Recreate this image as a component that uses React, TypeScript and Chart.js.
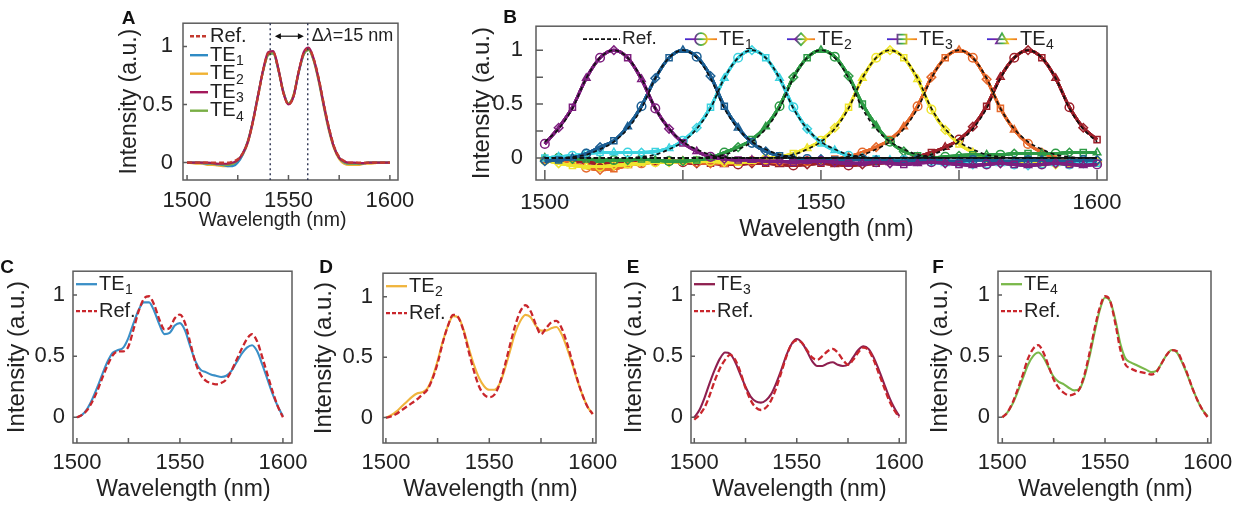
import React, { useEffect, useRef } from 'react';
import { Chart, registerables } from 'chart.js';

Chart.register(...registerables);

const FONT = '"Liberation Sans", Arial, Helvetica, sans-serif';
const TEXT = '#222222';
const AXIS = '#5c5c5c';

// ---------- shared axes ----------
const WAVELENGTH = [1500, 1502.5, 1505, 1507.5, 1510, 1512.5, 1515, 1517.5, 1520, 1522.5, 1525, 1527.5, 1530, 1532.5, 1535, 1537.5, 1540, 1542.5, 1545, 1547.5, 1550, 1552.5, 1555, 1557.5, 1560, 1562.5, 1565, 1567.5, 1570, 1572.5, 1575, 1577.5, 1580, 1582.5, 1585, 1587.5, 1590, 1592.5, 1595, 1597.5, 1600];
const X_TICKS = [1500, 1525, 1550, 1575, 1600];
const X_TICK_LABELS = [1500, 1550, 1600];
const Y_TICK_LABELS = [0, 0.5, 1];
const Y_TICKS_B = [0, 0.25, 0.5, 0.75, 1];
const X_TITLE = 'Wavelength (nm)';
const Y_TITLE = 'Intensity (a.u.)';

// ---------- panel A ----------
const A_REF = [0, 0, 0, 0, 0, 0, 0, 0, 0, 0.01, 0.03, 0.08, 0.18, 0.35, 0.57, 0.79, 0.94, 0.95, 0.80, 0.60, 0.50, 0.57, 0.78, 0.94, 0.98, 0.89, 0.72, 0.50, 0.30, 0.14, 0.05, 0.015, 0, 0, 0, 0, 0, 0, 0, 0, 0];
const A_TE1 = [0, 0, 0, -0.005, -0.01, -0.01, -0.015, -0.02, -0.03, -0.03, 0.0, 0.07, 0.18, 0.36, 0.58, 0.79, 0.93, 0.94, 0.80, 0.61, 0.51, 0.57, 0.77, 0.93, 0.97, 0.88, 0.70, 0.48, 0.28, 0.13, 0.04, 0.0, -0.01, -0.01, -0.01, -0.005, 0, 0, 0, 0, 0];
const A_TE2 = [0, -0.005, -0.01, -0.01, -0.02, -0.02, -0.025, -0.03, -0.03, -0.02, 0.01, 0.07, 0.17, 0.35, 0.57, 0.79, 0.93, 0.95, 0.81, 0.61, 0.51, 0.58, 0.78, 0.94, 0.97, 0.87, 0.69, 0.47, 0.27, 0.12, 0.03, -0.01, -0.02, -0.02, -0.02, -0.01, -0.01, -0.005, 0, 0, 0];
const A_TE3 = [0, 0, 0, 0, 0, -0.005, -0.01, -0.01, -0.01, 0.0, 0.02, 0.08, 0.18, 0.36, 0.58, 0.80, 0.95, 0.96, 0.81, 0.60, 0.50, 0.57, 0.78, 0.95, 0.99, 0.89, 0.71, 0.49, 0.29, 0.13, 0.04, 0.01, 0, 0, -0.005, -0.005, 0, 0, 0, 0, 0];
const A_TE4 = [0, 0, 0, 0, -0.005, -0.01, -0.01, -0.015, -0.02, -0.01, 0.02, 0.08, 0.19, 0.36, 0.58, 0.79, 0.93, 0.94, 0.80, 0.60, 0.51, 0.58, 0.78, 0.93, 0.97, 0.88, 0.71, 0.49, 0.29, 0.13, 0.04, 0.005, -0.01, -0.01, -0.01, -0.005, 0, 0, 0, 0, 0];
const A_PEAK_LINES = [1541, 1559.5];
const A_ARROW = [1543.3, 1557.6];
const A_ARROW_TEXT_AT = 1561.5;
const A_COLORS = { ref: '#c43a2f', te1: '#2f8bc4', te2: '#f0b232', te3: '#a3195b', te4: '#79ae45' };

// ---------- panel B ----------
const B_COLORS = ['#7d1e7e', '#1c5f94', '#3dd3e0', '#2d9b45', '#efe52e', '#e6692b', '#9e1f29'];
const B_REF_1 = [0.15, 0.27, 0.46, 0.74, 0.93, 1.0, 0.93, 0.74, 0.46, 0.27, 0.15, 0.08, 0.03, 0.01, 0, 0, 0, 0, 0, 0, 0, 0, 0, 0, 0, 0, 0, 0, 0, 0, 0, 0, 0, 0, 0, 0, 0, 0, 0, 0, 0];
const B_REF_2 = [0, 0, 0.01, 0.03, 0.08, 0.15, 0.27, 0.46, 0.74, 0.93, 1.0, 0.93, 0.74, 0.46, 0.27, 0.15, 0.08, 0.03, 0.01, 0, 0, 0, 0, 0, 0, 0, 0, 0, 0, 0, 0, 0, 0, 0, 0, 0, 0, 0, 0, 0, 0];
const B_REF_3 = [0, 0, 0, 0, 0, 0, 0, 0.01, 0.03, 0.08, 0.15, 0.27, 0.46, 0.74, 0.93, 1.0, 0.93, 0.74, 0.46, 0.27, 0.15, 0.08, 0.03, 0.01, 0, 0, 0, 0, 0, 0, 0, 0, 0, 0, 0, 0, 0, 0, 0, 0, 0];
const B_REF_4 = [0, 0, 0, 0, 0, 0, 0, 0, 0, 0, 0, 0, 0.01, 0.03, 0.08, 0.15, 0.27, 0.46, 0.74, 0.93, 1.0, 0.93, 0.74, 0.46, 0.27, 0.15, 0.08, 0.03, 0.01, 0, 0, 0, 0, 0, 0, 0, 0, 0, 0, 0, 0];
const B_REF_5 = [0, 0, 0, 0, 0, 0, 0, 0, 0, 0, 0, 0, 0, 0, 0, 0, 0, 0.01, 0.03, 0.08, 0.15, 0.27, 0.46, 0.74, 0.93, 1.0, 0.93, 0.74, 0.46, 0.27, 0.15, 0.08, 0.03, 0.01, 0, 0, 0, 0, 0, 0, 0];
const B_REF_6 = [0, 0, 0, 0, 0, 0, 0, 0, 0, 0, 0, 0, 0, 0, 0, 0, 0, 0, 0, 0, 0, 0, 0.01, 0.03, 0.08, 0.15, 0.27, 0.46, 0.74, 0.93, 1.0, 0.93, 0.74, 0.46, 0.27, 0.15, 0.08, 0.03, 0.01, 0, 0];
const B_REF_7 = [0, 0, 0, 0, 0, 0, 0, 0, 0, 0, 0, 0, 0, 0, 0, 0, 0, 0, 0, 0, 0, 0, 0, 0, 0, 0, 0, 0.01, 0.03, 0.08, 0.15, 0.27, 0.46, 0.74, 0.93, 1.0, 0.93, 0.74, 0.46, 0.27, 0.15];
const B_TE_1 = [0.13, 0.28, 0.47, 0.74, 0.93, 1.0, 0.93, 0.73, 0.46, 0.27, 0.14, 0.06, 0.01, -0.01, -0.02, -0.02, -0.03, -0.03, -0.04, -0.03, -0.03, -0.04, -0.05, -0.05, -0.04, -0.05, -0.06, -0.05, -0.04, -0.05, -0.06, -0.07, -0.06, -0.05, -0.06, -0.07, -0.06, -0.05, -0.06, -0.07, -0.06];
const B_TE_2 = [-0.03, -0.02, 0.0, 0.04, 0.10, 0.16, 0.29, 0.48, 0.74, 0.93, 1.0, 0.94, 0.76, 0.48, 0.28, 0.14, 0.06, 0.02, 0.0, -0.01, -0.01, -0.02, -0.02, -0.01, -0.02, -0.03, -0.03, -0.02, -0.02, -0.03, -0.03, -0.02, -0.02, -0.03, -0.03, -0.02, -0.02, -0.03, -0.03, -0.02, -0.02];
const B_TE_3 = [0.0, 0.01, 0.02, 0.04, 0.05, 0.05, 0.05, 0.05, 0.06, 0.09, 0.16, 0.28, 0.47, 0.74, 0.93, 1.0, 0.93, 0.74, 0.47, 0.27, 0.14, 0.07, 0.02, 0.0, -0.01, -0.02, -0.02, -0.03, -0.04, -0.05, -0.05, -0.06, -0.06, -0.05, -0.06, -0.07, -0.06, -0.05, -0.06, -0.05, -0.05];
const B_TE_4 = [0.0, 0.0, -0.01, -0.01, -0.02, -0.02, -0.02, -0.01, -0.02, -0.03, -0.03, -0.02, 0.0, 0.05, 0.10, 0.17, 0.29, 0.48, 0.75, 0.93, 1.0, 0.94, 0.76, 0.50, 0.30, 0.15, 0.06, 0.02, 0.0, 0.01, 0.02, 0.03, 0.03, 0.03, 0.04, 0.04, 0.04, 0.04, 0.05, 0.05, 0.05];
const B_TE_5 = [-0.02, -0.05, -0.07, -0.08, -0.08, -0.07, -0.06, -0.05, -0.04, -0.04, -0.03, -0.03, -0.03, -0.04, -0.04, -0.03, -0.01, 0.01, 0.04, 0.09, 0.16, 0.28, 0.47, 0.74, 0.93, 1.0, 0.93, 0.73, 0.45, 0.26, 0.13, 0.05, 0.0, -0.03, -0.04, -0.05, -0.05, -0.06, -0.05, -0.05, -0.04];
const B_TE_6 = [-0.01, -0.02, -0.05, -0.09, -0.11, -0.10, -0.07, -0.05, -0.04, -0.03, -0.03, -0.04, -0.05, -0.05, -0.04, -0.03, -0.03, -0.04, -0.04, -0.03, -0.02, -0.01, 0.01, 0.05, 0.10, 0.17, 0.29, 0.48, 0.75, 0.93, 1.0, 0.93, 0.73, 0.46, 0.26, 0.13, 0.05, 0.0, -0.03, -0.04, -0.03];
const B_TE_7 = [-0.02, -0.03, -0.03, -0.04, -0.05, -0.05, -0.05, -0.04, -0.03, -0.03, -0.04, -0.05, -0.05, -0.06, -0.06, -0.05, -0.05, -0.06, -0.07, -0.06, -0.05, -0.06, -0.07, -0.06, -0.05, -0.04, -0.02, 0.01, 0.05, 0.10, 0.17, 0.29, 0.48, 0.75, 0.93, 1.0, 0.93, 0.74, 0.47, 0.28, 0.17];
const B_REFS = [B_REF_1, B_REF_2, B_REF_3, B_REF_4, B_REF_5, B_REF_6, B_REF_7];
const B_TES = [B_TE_1, B_TE_2, B_TE_3, B_TE_4, B_TE_5, B_TE_6, B_TE_7];
const B_MARKERS = ['circle', 'rectRot', 'rect', 'triangle'];

// ---------- panels C-F ----------
const C_TE1 = [0.00, 0.02, 0.07, 0.15, 0.25, 0.36, 0.46, 0.53, 0.55, 0.57, 0.65, 0.77, 0.88, 0.94, 0.94, 0.87, 0.76, 0.68, 0.69, 0.75, 0.77, 0.71, 0.58, 0.46, 0.39, 0.37, 0.35, 0.34, 0.33, 0.34, 0.38, 0.45, 0.52, 0.57, 0.59, 0.54, 0.43, 0.31, 0.19, 0.09, 0.01];
const C_REF = [0.00, 0.02, 0.06, 0.13, 0.22, 0.33, 0.43, 0.51, 0.54, 0.54, 0.58, 0.72, 0.87, 0.97, 0.99, 0.92, 0.80, 0.72, 0.73, 0.81, 0.84, 0.77, 0.61, 0.45, 0.35, 0.30, 0.28, 0.27, 0.28, 0.31, 0.38, 0.47, 0.56, 0.64, 0.68, 0.62, 0.49, 0.35, 0.21, 0.09, 0.00];
const D_TE2 = [0.00, 0.02, 0.05, 0.09, 0.13, 0.17, 0.20, 0.21, 0.24, 0.33, 0.47, 0.63, 0.76, 0.84, 0.83, 0.73, 0.58, 0.44, 0.33, 0.26, 0.23, 0.23, 0.28, 0.40, 0.55, 0.70, 0.80, 0.85, 0.83, 0.76, 0.72, 0.72, 0.74, 0.75, 0.69, 0.58, 0.45, 0.31, 0.19, 0.09, 0.03];
const D_REF = [0.00, 0.01, 0.03, 0.06, 0.09, 0.12, 0.15, 0.19, 0.23, 0.32, 0.45, 0.62, 0.76, 0.85, 0.83, 0.72, 0.55, 0.39, 0.26, 0.19, 0.17, 0.19, 0.28, 0.43, 0.60, 0.76, 0.88, 0.93, 0.88, 0.77, 0.69, 0.74, 0.79, 0.80, 0.74, 0.62, 0.47, 0.32, 0.19, 0.09, 0.03];
const E_TE3 = [0.00, 0.06, 0.16, 0.28, 0.39, 0.48, 0.53, 0.52, 0.45, 0.35, 0.25, 0.17, 0.13, 0.12, 0.14, 0.19, 0.28, 0.39, 0.51, 0.60, 0.64, 0.61, 0.54, 0.46, 0.42, 0.42, 0.44, 0.45, 0.43, 0.42, 0.43, 0.49, 0.55, 0.58, 0.56, 0.49, 0.39, 0.28, 0.17, 0.08, 0.01];
const E_REF = [-0.02, 0.02, 0.08, 0.18, 0.30, 0.40, 0.47, 0.51, 0.47, 0.37, 0.24, 0.14, 0.08, 0.06, 0.08, 0.14, 0.24, 0.37, 0.50, 0.60, 0.63, 0.61, 0.55, 0.49, 0.47, 0.50, 0.54, 0.56, 0.53, 0.47, 0.43, 0.47, 0.53, 0.57, 0.55, 0.47, 0.36, 0.25, 0.14, 0.06, 0.00];
const F_TE4 = [0.00, 0.04, 0.11, 0.21, 0.32, 0.43, 0.50, 0.53, 0.49, 0.41, 0.33, 0.29, 0.27, 0.24, 0.22, 0.23, 0.33, 0.50, 0.70, 0.88, 0.98, 0.95, 0.80, 0.60, 0.48, 0.45, 0.43, 0.41, 0.39, 0.37, 0.38, 0.44, 0.51, 0.55, 0.53, 0.45, 0.35, 0.24, 0.14, 0.06, 0.01];
const F_REF = [0.00, 0.04, 0.12, 0.23, 0.35, 0.48, 0.56, 0.59, 0.53, 0.42, 0.31, 0.24, 0.20, 0.18, 0.19, 0.23, 0.35, 0.53, 0.73, 0.90, 0.99, 0.95, 0.77, 0.55, 0.43, 0.40, 0.38, 0.37, 0.36, 0.35, 0.37, 0.44, 0.51, 0.55, 0.54, 0.46, 0.36, 0.24, 0.14, 0.06, 0.00];
const REF_RED = '#c9262c';

// ---------- layout specs ----------
interface Spec {
  canvas: { l: number; t: number; w: number; h: number };
  plot: { l: number; t: number; r: number; b: number };
  xRange: [number, number];
  yRange: [number, number];
  yTickPad: number; yTitlePad: number;
  xLabelDy: number; xTitleDx: number; xTitleDy: number;
  tickSize: number; xTitleSize: number; yTitleSize: number;
  xTickLen: number; yTickLen: number; yTickMarks: number[];
  letter: string; letterPos: [number, number];
}

const SPEC_A: Spec = {
  canvas: { l: 110, t: 0, w: 320, h: 250 }, plot: { l: 183, t: 20, r: 398, b: 180 },
  xRange: [1498, 1604], yRange: [-0.15, 1.2],
  yTickPad: 10, yTitlePad: 6,
  xLabelDy: 20.5, xTitleDx: -18, xTitleDy: 41,
  tickSize: 22, xTitleSize: 19.5, yTitleSize: 23, xTickLen: 5, yTickLen: 4, yTickMarks: Y_TICK_LABELS,
  letter: 'A', letterPos: [128.5, 18.5],
};
const SPEC_B: Spec = {
  canvas: { l: 455, t: 0, w: 685, h: 250 }, plot: { l: 536, t: 20, r: 1107, b: 180 },
  xRange: [1498.4, 1601.8], yRange: [-0.205, 1.223],
  yTickPad: 13, yTitlePad: 12.5,
  xLabelDy: 22.5, xTitleDx: 5, xTitleDy: 49.5,
  tickSize: 22, xTitleSize: 23, yTitleSize: 24, xTickLen: 10, yTickLen: 7, yTickMarks: Y_TICKS_B,
  letter: 'B', letterPos: [510, 17.5],
};
const bottomSpec = (cl: number, cw: number, pl: number, pr: number, xr: [number, number], ytp: number, ytitle: number, letter: string, lp: [number, number]): Spec => ({
  canvas: { l: cl, t: 250, w: cw, h: 255 }, plot: { l: pl, t: 270, r: pr, b: 443 },
  xRange: xr, yRange: [-0.21, 1.195],
  yTickPad: ytp, yTitlePad: ytitle,
  xLabelDy: 19.5, xTitleDx: 1, xTitleDy: 46.5,
  tickSize: 22, xTitleSize: 23, yTitleSize: 24, xTickLen: 5, yTickLen: 4, yTickMarks: Y_TICK_LABELS,
  letter, letterPos: lp,
});
const SPEC_C = bottomSpec(0, 325, 73, 292, [1498.1, 1604.4], 8, 2.5, 'C', [7, 267.5]);
const SPEC_D = bottomSpec(305, 320, 383, 596, [1498.6, 1601.6], 10, 4.5, 'D', [326, 267.5]);
const SPEC_E = bottomSpec(615, 320, 691, 906, [1498.4, 1603.3], 8, 4.5, 'E', [633, 267.5]);
const SPEC_F = bottomSpec(920, 322, 998, 1211, [1497.9, 1601.6], 8, 5.5, 'F', [938, 267.5]);

// ---------- helpers ----------
const pts = (vals: number[]) => WAVELENGTH.map((x, i) => ({ x, y: vals[i] }));

function seg(ctx: CanvasRenderingContext2D, x1: number, y1: number, x2: number, y2: number) {
  ctx.beginPath(); ctx.moveTo(x1, y1); ctx.lineTo(x2, y2); ctx.stroke();
}

function subText(ctx: CanvasRenderingContext2D, main: string, sub: string, x: number, y: number, size: number) {
  ctx.fillStyle = TEXT; ctx.textBaseline = 'middle'; ctx.textAlign = 'left';
  ctx.font = `${size}px ${FONT}`;
  ctx.fillText(main, x, y);
  if (sub) {
    const w = ctx.measureText(main).width;
    ctx.font = `${Math.round(size * 0.72)}px ${FONT}`;
    ctx.fillText(sub, x + w + 0.5, y + size * 0.32);
  }
}

function marker(ctx: CanvasRenderingContext2D, shape: string, x: number, y: number, r: number) {
  ctx.beginPath();
  if (shape === 'circle') ctx.arc(x, y, r, 0, Math.PI * 2);
  else if (shape === 'rectRot') { ctx.moveTo(x, y - r); ctx.lineTo(x + r, y); ctx.lineTo(x, y + r); ctx.lineTo(x - r, y); ctx.closePath(); }
  else if (shape === 'rect') { ctx.rect(x - r * 0.75, y - r * 0.75, r * 1.5, r * 1.5); }
  else { ctx.moveTo(x, y - r); ctx.lineTo(x + r, y + r * 0.7); ctx.lineTo(x - r, y + r * 0.7); ctx.closePath(); }
  ctx.stroke();
}

function drawFrame(chart: any, s: Spec) {
  const { ctx, chartArea: a, scales } = chart;
  ctx.save();
  ctx.strokeStyle = AXIS; ctx.lineWidth = 1.5; ctx.setLineDash([]);
  ctx.beginPath();
  for (const v of X_TICKS) {
    const p = scales.x.getPixelForValue(v);
    ctx.moveTo(p, a.bottom); ctx.lineTo(p, a.bottom - s.xTickLen);
  }
  for (const v of s.yTickMarks) {
    const p = scales.y.getPixelForValue(v);
    ctx.moveTo(a.left, p); ctx.lineTo(a.left + s.yTickLen, p);
  }
  ctx.stroke();
  ctx.strokeRect(a.left, a.top, a.right - a.left, a.bottom - a.top);
  // x tick labels and title
  ctx.fillStyle = TEXT; ctx.textAlign = 'center'; ctx.textBaseline = 'middle';
  ctx.font = `${s.tickSize}px ${FONT}`;
  for (const v of X_TICK_LABELS) ctx.fillText(String(v), scales.x.getPixelForValue(v), a.bottom + s.xLabelDy);
  ctx.font = `${s.xTitleSize}px ${FONT}`;
  ctx.fillText(X_TITLE, (a.left + a.right) / 2 + s.xTitleDx, a.bottom + s.xTitleDy);
  // panel letter
  ctx.fillStyle = '#111'; ctx.font = `bold 19px ${FONT}`;
  ctx.fillText(s.letter, s.letterPos[0] - s.canvas.l, s.letterPos[1] - s.canvas.t);
  ctx.restore();
}

function makeConfig(s: Spec, datasets: any[], extra: (chart: any) => void) {
  const yW = s.plot.l - s.canvas.l;
  const xH = s.canvas.t + s.canvas.h - s.plot.b;
  return {
    type: 'line',
    data: { datasets },
    options: {
      responsive: false,
      animation: false,
      events: [],
      layout: { padding: { left: 0, top: s.plot.t - s.canvas.t, right: s.canvas.l + s.canvas.w - s.plot.r, bottom: 0 } },
      elements: { line: { cubicInterpolationMode: 'monotone', fill: false }, point: { radius: 0, hoverRadius: 0 } },
      plugins: { legend: { display: false }, tooltip: { enabled: false } },
      scales: {
        x: {
          type: 'linear', min: s.xRange[0], max: s.xRange[1],
          afterBuildTicks: (sc: any) => { sc.ticks = X_TICK_LABELS.map((v) => ({ value: v })); },
          afterFit: (sc: any) => { sc.height = xH; },
          grid: { display: false, drawTicks: false }, border: { display: false },
          ticks: { display: false },
          title: { display: false },
        },
        y: {
          type: 'linear', min: s.yRange[0], max: s.yRange[1],
          afterBuildTicks: (sc: any) => { sc.ticks = Y_TICK_LABELS.map((v) => ({ value: v })); },
          afterFit: (sc: any) => { sc.width = yW; },
          grid: { display: false, drawTicks: false }, border: { display: false },
          ticks: { padding: s.yTickPad, color: TEXT, font: { family: FONT, size: s.tickSize }, autoSkip: false, callback: (v: any) => String(v) },
          title: { display: true, text: Y_TITLE, color: TEXT, font: { family: FONT, size: s.yTitleSize }, padding: { top: s.yTitlePad, bottom: 0 } },
        },
      },
    },
    plugins: [{ id: 'decor', afterDatasetsDraw(chart: any) { drawFrame(chart, s); extra(chart); } }],
  };
}

// ---------- builders ----------
function buildA() {
  const line = (vals: number[], color: string, dash: number[] = []) => ({ data: pts(vals), borderColor: color, borderWidth: 2.2, borderDash: dash });
  const datasets = [
    line(A_REF, A_COLORS.ref, [5, 3]),
    line(A_TE3, A_COLORS.te3),
    line(A_TE4, A_COLORS.te4),
    line(A_TE1, A_COLORS.te1),
    line(A_TE2, A_COLORS.te2),
  ];
  const extra = (chart: any) => {
    const { ctx, chartArea: a, scales: { x } } = chart;
    ctx.save();
    ctx.strokeStyle = '#2b3350'; ctx.lineWidth = 1.4; ctx.setLineDash([2, 3]);
    for (const v of A_PEAK_LINES) { const p = x.getPixelForValue(v); seg(ctx, p, a.top, p, a.bottom); }
    ctx.setLineDash([]);
    const y = a.top + 13;
    const x1 = x.getPixelForValue(A_ARROW[0]);
    const x2 = x.getPixelForValue(A_ARROW[1]);
    ctx.strokeStyle = '#111'; ctx.fillStyle = '#111'; ctx.lineWidth = 1.2;
    seg(ctx, x1 + 3, y, x2 - 3, y);
    ctx.beginPath(); ctx.moveTo(x1, y); ctx.lineTo(x1 + 6, y - 3); ctx.lineTo(x1 + 6, y + 3); ctx.closePath(); ctx.fill();
    ctx.beginPath(); ctx.moveTo(x2, y); ctx.lineTo(x2 - 6, y - 3); ctx.lineTo(x2 - 6, y + 3); ctx.closePath(); ctx.fill();
    let tx = x.getPixelForValue(A_ARROW_TEXT_AT);
    ctx.fillStyle = TEXT; ctx.textBaseline = 'middle'; ctx.textAlign = 'left';
    ctx.font = `18px ${FONT}`; ctx.fillText('Δ', tx, y); tx += ctx.measureText('Δ').width;
    ctx.font = `italic 18px ${FONT}`; ctx.fillText('λ', tx, y); tx += ctx.measureText('λ').width;
    ctx.font = `18px ${FONT}`; ctx.fillText('=15 nm', tx, y);
    // legend
    const items: [string, string, string, boolean][] = [
      ['Ref.', '', A_COLORS.ref, true], ['TE', '1', A_COLORS.te1, false], ['TE', '2', A_COLORS.te2, false],
      ['TE', '3', A_COLORS.te3, false], ['TE', '4', A_COLORS.te4, false],
    ];
    const rows = [13, 32, 50.5, 69, 87.5];
    items.forEach(([m, sub, c, dashed], i) => {
      const ly = a.top + rows[i];
      ctx.strokeStyle = c; ctx.lineWidth = 2.4; ctx.setLineDash(dashed ? [4, 2] : []);
      seg(ctx, a.left + 7, ly, a.left + 25, ly);
      ctx.setLineDash([]);
      subText(ctx, m, sub, a.left + 27, ly, 20);
    });
    ctx.restore();
  };
  return makeConfig(SPEC_A, datasets, extra);
}

function buildB() {
  const refSets = B_REFS.map((vals) => ({ data: pts(vals), borderColor: '#111111', borderWidth: 1.7, borderDash: [4, 3], pointRadius: 0 }));
  const teSets: any[] = [];
  B_TES.forEach((vals, ci) => {
    B_MARKERS.forEach((shape, k) => {
      teSets.push({
        data: pts(vals), borderColor: B_COLORS[ci], borderWidth: 3,
        pointStyle: shape,
        pointRadius: (c: any) => ((c.dataIndex + ci) % 4 === k ? 4.3 : 0),
        pointBorderWidth: 1.5, pointBorderColor: B_COLORS[ci], pointBackgroundColor: 'rgba(255,255,255,0)',
      });
    });
  });
  const extra = (chart: any) => {
    const { ctx, chartArea: a } = chart;
    const y = a.top + 13;
    ctx.save();
    ctx.strokeStyle = '#111'; ctx.lineWidth = 1.8; ctx.setLineDash([4, 2]);
    seg(ctx, a.left + 47, y, a.left + 84, y);
    ctx.setLineDash([]);
    subText(ctx, 'Ref.', '', a.left + 86, y, 19);
    const items: [number, number, number, string, string][] = [
      [149, 181, 183, '1', 'circle'], [251, 279, 282, '2', 'rectRot'], [351, 381, 383, '3', 'rect'], [451, 481, 484, '4', 'triangle'],
    ];
    items.forEach(([l1, l2, t, sub, shape]) => {
      const g = ctx.createLinearGradient(a.left + l1, 0, a.left + l2, 0);
      g.addColorStop(0, '#3a2bd8'); g.addColorStop(0.3, '#7a1fa0'); g.addColorStop(0.5, '#36b44a');
      g.addColorStop(0.7, '#f0c020'); g.addColorStop(1, '#f07020');
      ctx.strokeStyle = g; ctx.lineWidth = 1.8;
      seg(ctx, a.left + l1, y, a.left + l2, y);
      marker(ctx, shape, a.left + (l1 + l2) / 2, y, 6);
      subText(ctx, 'TE', sub, a.left + t, y, 20);
    });
    ctx.restore();
  };
  return makeConfig(SPEC_B, [...refSets, ...teSets], extra);
}

function buildBottom(s: Spec, te: number[], ref: number[], color: string, sub: string) {
  const datasets = [
    { data: pts(ref), borderColor: REF_RED, borderWidth: 2.3, borderDash: [6, 3] },
    { data: pts(te), borderColor: color, borderWidth: 2.1 },
  ];
  const extra = (chart: any) => {
    const { ctx, chartArea: a } = chart;
    ctx.save();
    const y1 = a.top + 13;
    const y2 = a.top + 40;
    ctx.strokeStyle = color; ctx.lineWidth = 2.3;
    seg(ctx, a.left + 3, y1, a.left + 24, y1);
    subText(ctx, 'TE', sub, a.left + 26, y1, 20);
    ctx.strokeStyle = REF_RED; ctx.setLineDash([4, 2]);
    seg(ctx, a.left + 3, y2, a.left + 24, y2);
    ctx.setLineDash([]);
    subText(ctx, 'Ref.', '', a.left + 26, y2, 20);
    ctx.restore();
  };
  return makeConfig(s, datasets, extra);
}

// ---------- components ----------
function Panel({ spec, build }: { spec: Spec; build: () => any }) {
  const ref = useRef<HTMLCanvasElement>(null);
  useEffect(() => {
    const chart = new Chart(ref.current as HTMLCanvasElement, build() as any);
    return () => chart.destroy();
  }, []);
  return (
    <canvas
      ref={ref}
      width={spec.canvas.w}
      height={spec.canvas.h}
      style={{ position: 'absolute', left: spec.canvas.l, top: spec.canvas.t, width: spec.canvas.w, height: spec.canvas.h }}
    />
  );
}

export default function App() {
  return (
    <div style={{ position: 'absolute', left: 0, top: 0, width: 1242, height: 505, background: '#ffffff', overflow: 'hidden' }}>
      <Panel spec={SPEC_A} build={buildA} />
      <Panel spec={SPEC_B} build={buildB} />
      <Panel spec={SPEC_C} build={() => buildBottom(SPEC_C, C_TE1, C_REF, '#3a8fc7', '1')} />
      <Panel spec={SPEC_D} build={() => buildBottom(SPEC_D, D_TE2, D_REF, '#f0b43c', '2')} />
      <Panel spec={SPEC_E} build={() => buildBottom(SPEC_E, E_TE3, E_REF, '#8e1f4f', '3')} />
      <Panel spec={SPEC_F} build={() => buildBottom(SPEC_F, F_TE4, F_REF, '#7ab84a', '4')} />
    </div>
  );
}
